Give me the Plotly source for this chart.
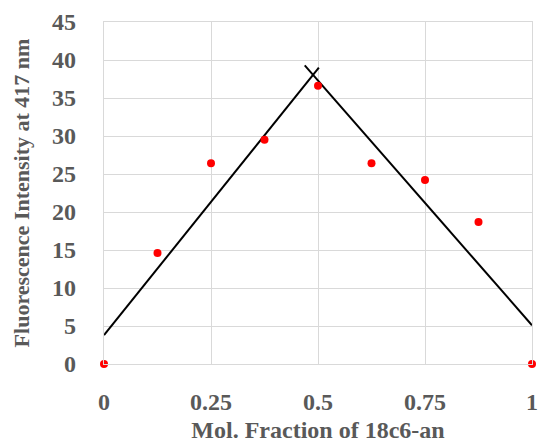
import plotly.graph_objects as go

mol_fraction = [0, 0.125, 0.25, 0.375, 0.5, 0.625, 0.75, 0.875, 1]
intensity = [0, 14.6, 26.4, 29.5, 36.6, 26.4, 24.2, 18.7, 0]

fit1_x = [0, 0.502]
fit1_y = [3.8, 39.0]
fit2_x = [0.469, 1]
fit2_y = [39.3, 5.1]

x_ticks = [0, 0.25, 0.5, 0.75, 1]
x_tick_labels = ["0", "0.25", "0.5", "0.75", "1"]
y_ticks = list(range(0, 46, 5))

fig = go.Figure()
fig.add_trace(go.Scatter(x=fit1_x, y=fit1_y, mode="lines",
                         line=dict(color="black", width=2), showlegend=False))
fig.add_trace(go.Scatter(x=fit2_x, y=fit2_y, mode="lines",
                         line=dict(color="black", width=2), showlegend=False))
fig.add_trace(go.Scatter(x=mol_fraction, y=intensity, mode="markers",
                         marker=dict(color="#ff0000", size=8), cliponaxis=False,
                         showlegend=False))

font_family = "Liberation Serif"
fig.update_layout(
    width=538, height=444,
    margin=dict(l=104, r=6, t=22, b=80),
    paper_bgcolor="white", plot_bgcolor="white",
    font=dict(family=font_family, color="#595959"),
)
fig.update_xaxes(
    range=[0, 1], tickvals=x_ticks, ticktext=[f"<b>{t}</b>" for t in x_tick_labels],
    tickfont=dict(size=24, color="#595959"), ticklabeloverflow="allow",
    automargin=False,
    showgrid=True, gridcolor="#d9d9d9", gridwidth=1.3, zeroline=False,
    showline=True, mirror=True, linecolor="#d9d9d9", linewidth=1.3,
    ticklabelstandoff=16,
    title=dict(text="<b>Mol. Fraction of 18c6-an</b>", font=dict(size=24, color="#595959"), standoff=7),
)
fig.update_yaxes(
    range=[0, 45], tickvals=y_ticks, ticktext=[f"<b>{t}</b>" for t in y_ticks],
    tickfont=dict(size=24, color="#595959"), ticklabeloverflow="allow",
    automargin=False,
    showgrid=True, gridcolor="#d9d9d9", gridwidth=1.3, zeroline=False,
    showline=True, mirror=True, linecolor="#d9d9d9", linewidth=1.3,
    ticklabelstandoff=22,
    title=dict(text="<b>Fluorescence Intensity at 417 nm</b>", font=dict(size=22, color="#595959"), standoff=16),
)
fig.write_html("out.html")
